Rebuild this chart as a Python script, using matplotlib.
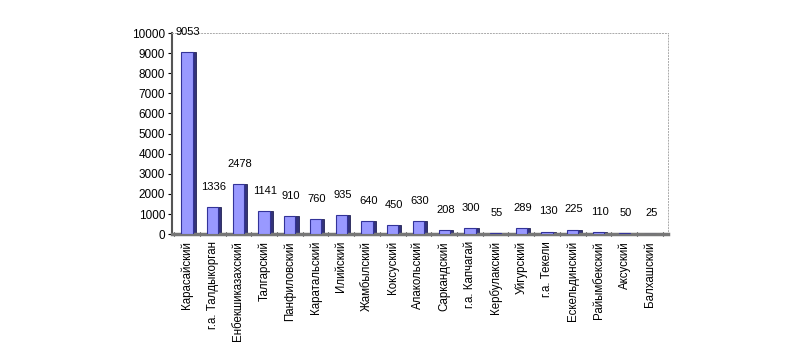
import matplotlib
matplotlib.use("Agg")
import matplotlib.pyplot as plt
import numpy as np

categories = ["Карасайский", "г.а. Талдыкорган", "Енбекшиказахский", "Талгарский",
              "Панфиловский", "Каратальский", "Илийский", "Жамбылский", "Коксуский",
              "Алакольский", "Саркандский", "г.а. Капчагай", "Кербулакский", "Уйгурский",
              "г.а. Текели", "Ескельдинский", "Райымбекский", "Аксуский", "Балхашский"]
values = [9053, 1336, 2478, 1141, 910, 760, 935, 640, 450, 630,
          208, 300, 55, 289, 130, 225, 110, 50, 25]
yticks = [0, 1000, 2000, 3000, 4000, 5000, 6000, 7000, 8000, 9000, 10000]

plt.rcParams['font.family'] = ['Liberation Sans', 'DejaVu Sans']

fig = plt.figure(figsize=(8, 3.63), dpi=100)
ax = fig.add_axes([0.215, 0.355, 0.62, 0.554])

x = np.arange(len(categories))
# shadow/side of the 3D bar
ax.bar(x + 0.12, values, width=0.44, color="#33337a", edgecolor="#222255",
       linewidth=0.6, zorder=2)
ax.bar(x, values, width=0.44, color="#9999ff", edgecolor="#333399",
       linewidth=0.8, zorder=3)

for xi, v in zip(x, values):
    ax.annotate(str(v), (xi, v), xytext=(1, 11), textcoords="offset points",
                ha="center", va="bottom", fontsize=8, color="black")

ax.set_xlim(-0.58, len(categories) - 0.3)
ax.set_ylim(0, 10000)
ax.set_yticks(yticks)
ax.set_yticklabels([str(t) for t in yticks], fontsize=8.5)
ax.set_xticks(x)
ax.set_xticklabels(categories, rotation=90, fontsize=8.3)
ax.set_xticks(np.arange(-0.5, len(categories), 0.5), minor=True)
ax.tick_params(axis='x', which='major', length=0, pad=5)
ax.tick_params(axis='x', which='minor', length=3, direction='inout', width=0.8)
ax.tick_params(axis='y', length=3, direction='out', width=0.8, pad=2)

for s in ['top', 'right']:
    ax.spines[s].set_linestyle((0, (1, 2)))
    ax.spines[s].set_color('#aaaaaa')
    ax.spines[s].set_linewidth(0.7)
ax.spines['left'].set_color('#555555')
ax.spines['left'].set_linewidth(1.5)
ax.spines['bottom'].set_color('#777777')
ax.spines['bottom'].set_linewidth(2.5)

fig.savefig("out.png", dpi=100, facecolor="white")
